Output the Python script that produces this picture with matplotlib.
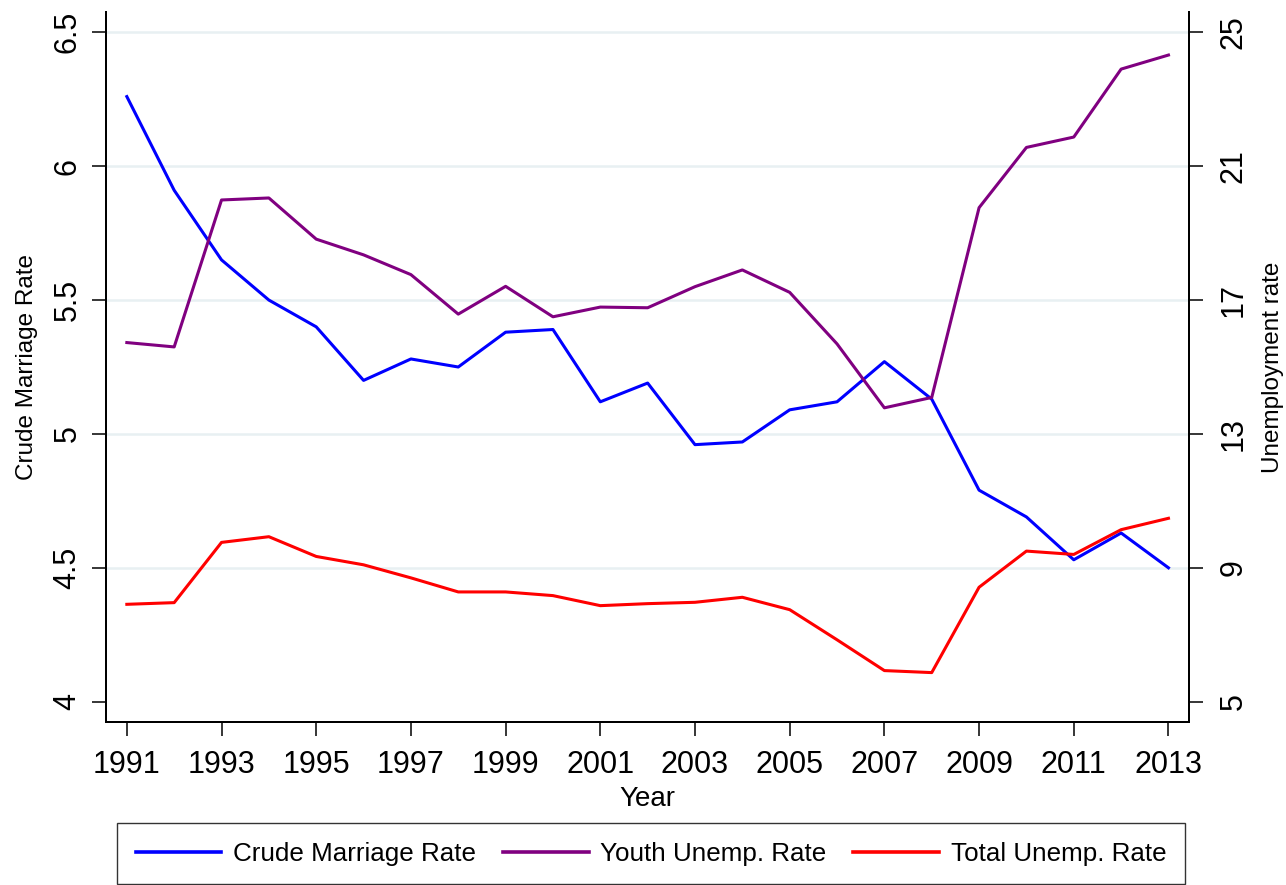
import numpy as np
import matplotlib
matplotlib.use("Agg")
import matplotlib.pyplot as plt

plt.rcParams['font.family'] = ['Liberation Sans', 'DejaVu Sans']

years = list(range(1991, 2014))

# crude marriage rate (per 1000 people), left axis
marriage_rate = [6.26, 5.91, 5.65, 5.50, 5.40, 5.20, 5.28, 5.25, 5.38, 5.39,
                 5.12, 5.19, 4.96, 4.97, 5.09, 5.12, 5.27, 5.13, 4.79, 4.69,
                 4.53, 4.63, 4.50]

# unemployment rates (%), right axis
youth_unemp = [15.73, 15.60, 19.99, 20.05, 18.82, 18.35, 17.76, 16.58, 17.41, 16.50,
               16.79, 16.77, 17.40, 17.90, 17.23, 15.69, 13.78, 14.09, 19.76, 21.56,
               21.87, 23.90, 24.32]
total_unemp = [7.91, 7.96, 9.76, 9.93, 9.34, 9.09, 8.70, 8.28, 8.28, 8.17,
               7.87, 7.93, 7.97, 8.12, 7.75, 6.85, 5.93, 5.87, 8.42, 9.50,
               9.40, 10.14, 10.48]

year_ticks = list(range(1991, 2014, 2))
left_ticks = [4, 4.5, 5, 5.5, 6, 6.5]
left_labels = ['4', '4.5', '5', '5.5', '6', '6.5']
right_ticks = [5, 9, 13, 17, 21, 25]

W, H = 1286, 885
fig = plt.figure(figsize=(W / 100, H / 100), dpi=100)
ax = fig.add_axes([106 / W, 1 - 722.3 / H, (1189.3 - 106) / W, (722.3 - 11.7) / H])
ax2 = ax.twinx()

grid_col = '#e8f0f2'
for v in left_ticks[1:]:
    ax.axhline(v, color=grid_col, lw=1.8, zorder=0)

l1, = ax.plot(years, marriage_rate, color='#0000ff', lw=2.2, label='Crude Marriage Rate')
l2, = ax2.plot(years, youth_unemp, color='#800080', lw=2.2, label='Youth Unemp. Rate')
l3, = ax2.plot(years, total_unemp, color='#ff0000', lw=2.2, label='Total Unemp. Rate')

ax.set_xlim(1990.56, 2013.44)
ax.set_ylim(3.923, 6.577)
ax2.set_ylim(4.385, 25.615)

ax.set_xticks(year_ticks)
ax.set_yticks(left_ticks)
ax.set_yticklabels(left_labels, rotation=90, va='center')
ax2.set_yticks(right_ticks)
ax2.set_yticklabels([str(t) for t in right_ticks], rotation=90, va='center')

for a in (ax, ax2):
    a.spines['top'].set_visible(False)
    for s in ('left', 'right', 'bottom'):
        a.spines[s].set_linewidth(1.4)
    a.tick_params(length=10, width=1.1, labelsize=22, color='black')
ax.tick_params(axis='x', pad=10)
ax.tick_params(axis='y', pad=7)
ax2.tick_params(axis='y', pad=11)

ax.set_xlabel('Year', fontsize=20, labelpad=4)
ax.set_ylabel('Crude Marriage Rate', fontsize=17.5, labelpad=10)
ax2.set_ylabel('Unemployment rate', fontsize=17.5, labelpad=10)

leg = fig.legend(handles=[l1, l2, l3], ncol=3, fontsize=18.7, mode='expand',
                 loc='upper left',
                 bbox_to_anchor=(117 / W, 1 - 823 / H, (1185 - 117) / W, 0),
                 handlelength=3.3, handletextpad=0.45, borderaxespad=0,
                 fancybox=False, frameon=True, borderpad=0.72)
leg.get_frame().set_edgecolor('black')
leg.get_frame().set_linewidth(1.0)
for h in leg.get_lines():
    h.set_linewidth(2.6)

fig.savefig('out.png', dpi=100)
